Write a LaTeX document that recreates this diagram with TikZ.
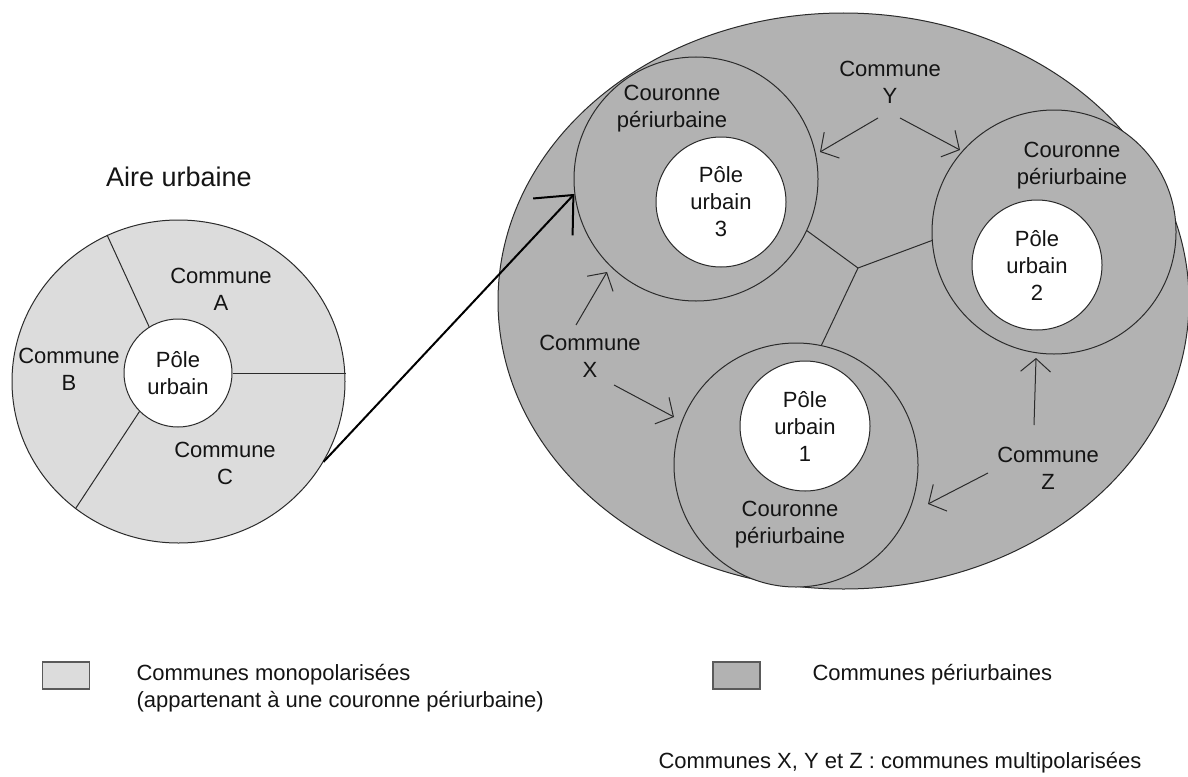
\documentclass[tikz,border=0pt]{standalone}
\usepackage{fontspec}
\setmainfont{Liberation Sans}
\usetikzlibrary{arrows.meta,shapes.geometric,calc}
\definecolor{lightf}{HTML}{DCDCDC}
\definecolor{darkf}{HTML}{B2B2B2}
\definecolor{linec}{HTML}{2B2B2B}
\definecolor{txtc}{HTML}{141414}
\definecolor{legc}{HTML}{5A5A5A}
\begin{document}
\begin{tikzpicture}[x=1pt,y=-1pt,
  every node/.style={text=txtc, font=\fontsize{22}{27}\selectfont, align=center},
  sep/.style={draw=linec, line width=1pt},
  ring/.style={circle, draw=linec, fill=darkf, line width=1pt, minimum size=244pt, inner sep=0pt},
  polenode/.style={circle, draw=linec, fill=white, line width=1pt, minimum size=130pt, inner sep=0pt},
  arr/.style={draw=linec, line width=1pt, -{Straight Barb[length=13pt,width=30pt,line width=1pt]}},
  bigarr/.style={draw=black, line width=2pt, -{Straight Barb[length=30pt,width=54pt,line width=2pt]}},
  keybox/.style={draw=legc, line width=1.6pt, minimum width=47pt, minimum height=27pt, inner sep=0pt}]
\useasboundingbox (0,0) rectangle (1188,776);
\fill[white] (0,0) rectangle (1188,776);

% ---- left: aire urbaine
\node[font=\fontsize{27}{32}\selectfont] (titre) at (179,177) {Aire urbaine};
\node[ellipse, draw=linec, fill=lightf, line width=1pt, minimum width=333pt, minimum height=323pt, inner sep=0pt] (aire) at (178.5,381.5) {};
\node[circle, draw=linec, fill=white, line width=1pt, minimum size=108pt, inner sep=0pt] (pole0) at (178,373) {Pôle\\urbain};
\draw[sep] (pole0.122) -- (aire.116);
\draw[sep] (pole0.east) -- (pole0.east -| aire.east);
\draw[sep] (pole0.225) -- (aire.231);
\node (ca) at (221,289.5) {Commune\\A};
\node (cb) at (69,369.5) {Commune\\B};
\node (cc) at (225,463.5) {Commune\\C};

% ---- right: espace multipolarise
\node[ellipse, draw=linec, fill=darkf, line width=1pt, minimum width=691pt, minimum height=576pt, inner sep=0pt] (pe) at (843.5,301) {};
\node[ring] (c3) at (696,179) {};
\node[ring] (c2) at (1054,232) {};
\node[ring] (c1) at (796,465) {};
\coordinate (J) at (858,268);
\draw[sep] (J) -- (c3.-25.5);
\draw[sep] (J) -- (c2.184);
\draw[sep] (J) -- (c1.78);
\node[polenode] (p3) at (721,202) {Pôle\\urbain\\3};
\node[polenode] (p2) at (1037,265) {Pôle\\urbain\\2};
\node[polenode] (p1) at (805,426) {Pôle\\urbain\\1};
\node (cr3) at (672,108.5) {Couronne\\périurbaine};
\node (cr2) at (1072,165.5) {Couronne\\périurbaine};
\node (cr1) at (790,524.5) {Couronne\\périurbaine};
\node (cy) at (890,82.5) {Commune\\Y};
\node (cx) at (590,356.5) {Commune\\X};
\node (cz) at (1048,468.5) {Commune\\Z};

% arrows
\coordinate (y1) at (878,118); \coordinate (y1e) at (820,152);
\coordinate (y2) at (900,118); \coordinate (y2e) at (960,150);
\coordinate (x1) at (576,325); \coordinate (x1e) at (607,272);
\coordinate (x2) at (614,385); \coordinate (x2e) at (674,417);
\coordinate (z1) at (1034,425); \coordinate (z1e) at (1036,358);
\coordinate (z2) at (988,473); \coordinate (z2e) at (928,504);
\draw[arr] (y1) -- (y1e);
\draw[arr] (y2) -- (y2e);
\draw[arr] (x1) -- (x1e);
\draw[arr] (x2) -- (x2e);
\draw[arr] (z1) -- (z1e);
\draw[arr] (z2) -- (z2e);

\draw[bigarr] (aire.-29.3) -- (c3.187);

% ---- legend
\node[keybox, fill=lightf] (k1) at (66,675.5) {};
\node[anchor=west, align=left] (t1) at (133,688.5) {Communes monopolarisées\\(appartenant à une couronne périurbaine)};
\node[keybox, fill=darkf] (k2) at (736.5,675.5) {};
\node[anchor=west] (t2) at (809,675) {Communes périurbaines};
\node[anchor=west] (t3) at (655,763) {Communes X, Y et Z : communes multipolarisées};
\end{tikzpicture}
\end{document}
